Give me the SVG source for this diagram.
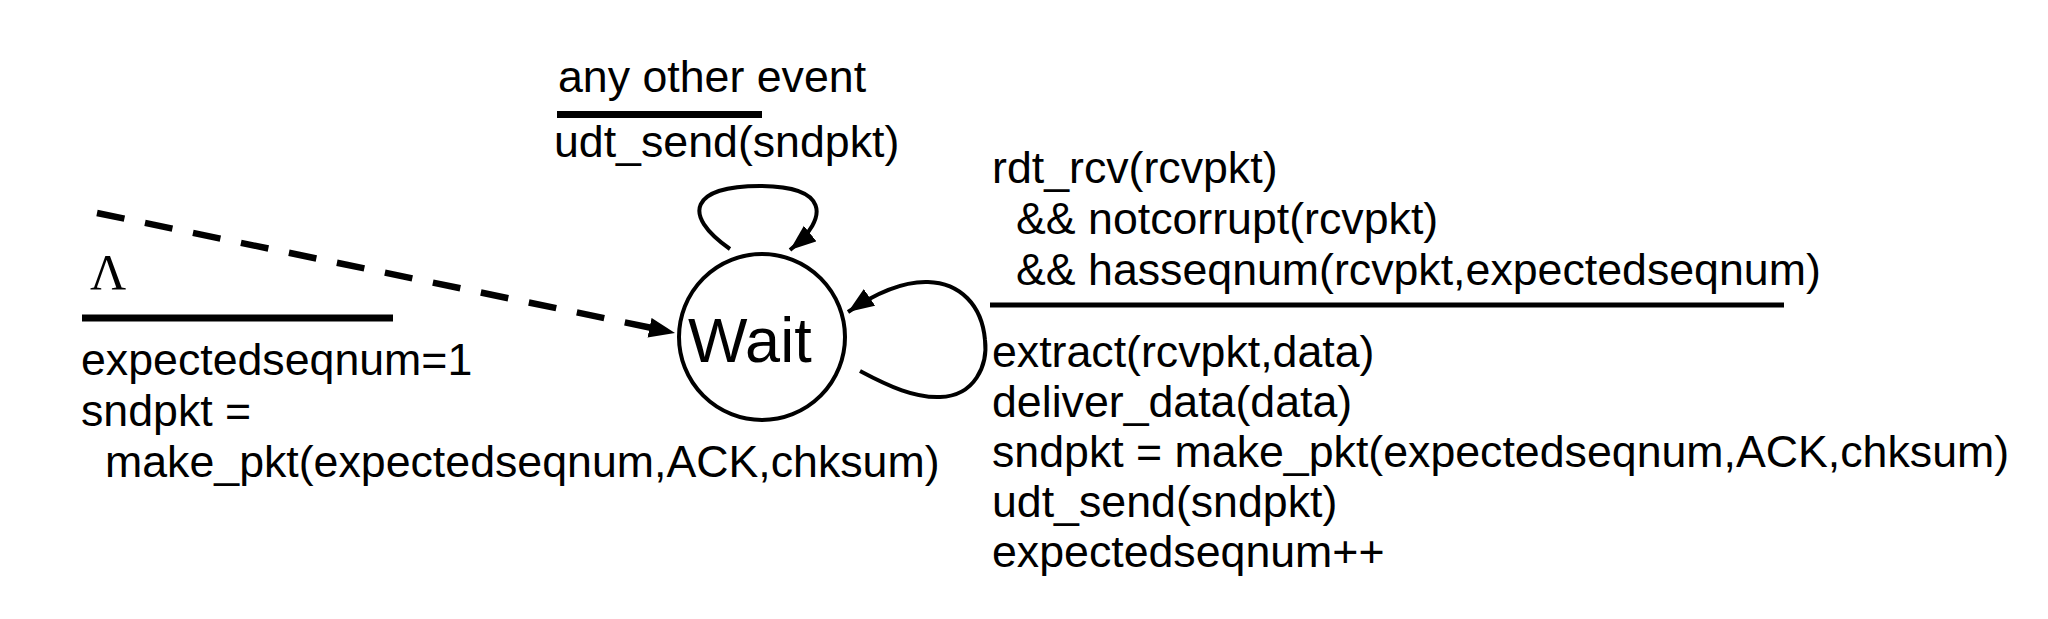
<svg xmlns="http://www.w3.org/2000/svg" width="2048" height="619" viewBox="0 0 2048 619">
<style>
  .t { font-family: "Liberation Sans", Arial, Helvetica, sans-serif; font-size: 44.7px; fill: #000; }
  .lam { font-family: "Liberation Serif", "Times New Roman", serif; font-size: 50px; fill: #000; }
  .bar { stroke: #000; stroke-width: 7; fill: none; }
  .edge { stroke: #000; stroke-width: 4; fill: none; }
  .dash { stroke: #000; stroke-width: 6.5; fill: none; stroke-dasharray: 28 21; }
</style>
<defs>
  <marker id="arrow" markerUnits="userSpaceOnUse" markerWidth="30" markerHeight="22" refX="26" refY="10" orient="auto">
    <path d="M0,0 L26,10 L0,20 Z" fill="#000"/>
  </marker>
</defs>
<rect width="2048" height="619" fill="#fff"/>

<g id="connectors">
  <path id="edge-init" class="dash" d="M97,213 L652,328"/>
  <path d="M97,213 L675,333" stroke="none" fill="none" marker-end="url(#arrow)"/>
  <path id="edge-other" class="edge" d="M730,249 C680,214 692,186 760,186 C826,186 832,216 790,250" marker-end="url(#arrow)"/>
  <path id="edge-rcv" class="edge" d="M860,371 C890,387 915,398 940,397 C975,396 988,365 985,340 C982,305 960,283 928,282 C900,281 870,297 848,312" marker-end="url(#arrow)"/>
</g>

<g id="state-wait">
  <circle cx="762" cy="337" r="83" fill="#fff" stroke="#000" stroke-width="4"/>
  <text x="688" y="362" font-family="Liberation Sans, Arial, sans-serif" font-size="63" fill="#000">Wait</text>
</g>

<g id="label-init">
  <text class="lam" x="90" y="289">Λ</text>
  <line class="bar" x1="82" y1="318" x2="393" y2="318"/>
  <text class="t" x="81" y="375">expectedseqnum=1</text>
  <text class="t" x="81" y="426">sndpkt =</text>
  <text class="t" x="105" y="477">make_pkt(expectedseqnum,ACK,chksum)</text>
</g>

<g id="label-other">
  <text class="t" x="558" y="92">any other event</text>
  <line class="bar" x1="557" y1="114.5" x2="762" y2="114.5"/>
  <text class="t" x="554" y="157">udt_send(sndpkt)</text>
</g>

<g id="label-rcv">
  <text class="t" x="992" y="183">rdt_rcv(rcvpkt)</text>
  <text class="t" x="1016" y="234">&amp;&amp; notcorrupt(rcvpkt)</text>
  <text class="t" x="1016" y="285">&amp;&amp; hasseqnum(rcvpkt,expectedseqnum)</text>
  <line x1="990" y1="305" x2="1784" y2="305" stroke="#000" stroke-width="5"/>
  <text class="t" x="992" y="367">extract(rcvpkt,data)</text>
  <text class="t" x="992" y="417">deliver_data(data)</text>
  <text class="t" x="992" y="467">sndpkt = make_pkt(expectedseqnum,ACK,chksum)</text>
  <text class="t" x="992" y="517">udt_send(sndpkt)</text>
  <text class="t" x="992" y="567">expectedseqnum++</text>
</g>
</svg>
